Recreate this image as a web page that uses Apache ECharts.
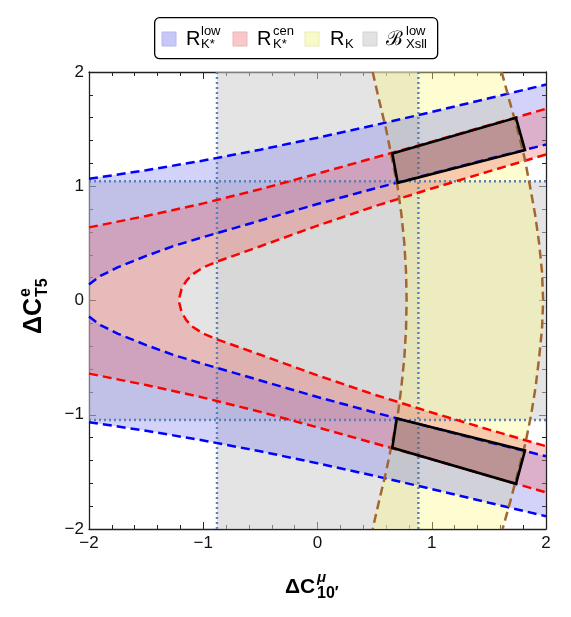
<!DOCTYPE html>
<html>
<head>
<meta charset="utf-8">
<script src="https://cdn.jsdelivr.net/npm/echarts@6/dist/echarts.min.js"></script>
<style>
  html, body { margin: 0; background: #fff; }
  #chart { width: 571px; height: 617px; }
</style>
</head>
<body>
<div id="chart"></div>
<script>
// axis ticks
const xTicks = [-2, -1, 0, 1, 2];
const yTicks = [-2, -1, 0, 1, 2];

// R_K* low: outer and inner boundaries (upper / lower branch)
const blueOuterTop = [[-2, 1.065], [-1.5, 1.14], [-1, 1.225], [-0.5, 1.32], [0, 1.425], [0.5, 1.535], [1, 1.65], [1.5, 1.77], [2, 1.89]];
const blueOuterBottom = [[-2, -1.065], [-1.5, -1.14], [-1, -1.225], [-0.5, -1.32], [0, -1.425], [0.5, -1.535], [1, -1.65], [1.5, -1.77], [2, -1.888]];
const blueInnerTop = [[-2, 0.14], [-1.9, 0.215], [-1.75, 0.29], [-1.5, 0.39], [-1.25, 0.48], [-1, 0.555], [-0.5, 0.7], [0, 0.845], [0.5, 0.98], [1, 1.11], [1.5, 1.24], [2, 1.365]];
const blueInnerBottom = [[-2, -0.14], [-1.9, -0.215], [-1.75, -0.29], [-1.5, -0.39], [-1.25, -0.48], [-1, -0.555], [-0.5, -0.7], [0, -0.845], [0.5, -0.98], [1, -1.11], [1.5, -1.24], [2, -1.363]];

// R_K* cen
const redOuterTop = [[-2, 0.64], [-1.5, 0.74], [-1, 0.85], [-0.5, 0.975], [0, 1.11], [0.5, 1.25], [1, 1.39], [1.5, 1.535], [2, 1.678]];
const redOuterBottom = [[-2, -0.64], [-1.5, -0.74], [-1, -0.85], [-0.5, -0.975], [0, -1.11], [0.5, -1.25], [1, -1.39], [1.5, -1.535], [2, -1.68]];
const redInnerTop = [[-1.215, 0], [-1.19, 0.1], [-1.15, 0.17], [-1.1, 0.225], [-1, 0.29], [-0.88, 0.34], [-0.5, 0.475], [0, 0.655], [0.5, 0.825], [1, 0.98], [1.5, 1.13], [2, 1.278]];
const redInnerBottom = [[-1.215, 0], [-1.19, -0.1], [-1.15, -0.17], [-1.1, -0.225], [-1, -0.29], [-0.88, -0.34], [-0.5, -0.475], [0, -0.655], [0.5, -0.825], [1, -0.98], [1.5, -1.13], [2, -1.275]];

// R_K: left and right boundaries, top to bottom
const brownLeft = [[0.483, 2], [0.54, 1.75], [0.6, 1.5], [0.65, 1.25], [0.7, 1], [0.735, 0.75], [0.76, 0.5], [0.775, 0.25], [0.78, 0], [0.775, -0.25], [0.76, -0.5], [0.735, -0.75], [0.703, -1], [0.652, -1.25], [0.6, -1.5], [0.54, -1.75], [0.483, -2]];
const brownRight = [[1.612, 2], [1.68, 1.75], [1.75, 1.5], [1.812, 1.25], [1.86, 1], [1.905, 0.75], [1.94, 0.5], [1.965, 0.25], [1.975, 0], [1.965, -0.25], [1.94, -0.5], [1.91, -0.75], [1.87, -1], [1.82, -1.25], [1.755, -1.5], [1.69, -1.75], [1.62, -2]];

// B_Xsll low: bands
const grayBandX = [-0.88, 0.883];
const grayBandY = [-1.046, 1.044];

// best-fit boxes
const boxTop = [[0.655, 1.287], [1.737, 1.599], [1.816, 1.316], [0.702, 1.03]];
const boxBottom = [[0.693, -1.033], [1.816, -1.313], [1.737, -1.605], [0.655, -1.289]];

const FONT = 'Liberation Sans, Arial, Helvetica, sans-serif';
const BLUE_FILL = 'rgba(110,110,240,0.3)';
const RED_FILL = 'rgba(240,90,90,0.3)';
const YELLOW_FILL = 'rgba(250,250,140,0.4)';
const GRAY_FILL = 'rgba(205,205,205,0.55)';

const rev = arr => arr.slice().reverse();

function polygonSeries(polys, fill, stroke, z) {
    return {
        type: 'custom',
        coordinateSystem: 'cartesian2d',
        clip: true,
        silent: true,
        z: z || 2,
        data: polys.map(() => [0, 0]),
        renderItem: (params, api) => ({
            type: 'polygon',
            shape: { points: polys[params.dataIndex].map(p => api.coord(p)) },
            style: { fill, stroke: stroke || null, lineWidth: 2.6, lineJoin: 'miter' },
        }),
    };
}

function lineSeries(data, color, dash, width) {
    return {
        type: 'line',
        data,
        symbol: 'none',
        silent: true,
        clip: true,
        z: 3,
        lineStyle: { color, width, type: dash },
    };
}

const grayV = [[grayBandX[0], -2], [grayBandX[1], -2], [grayBandX[1], 2], [grayBandX[0], 2]];
const grayH = [[-2, grayBandY[0]], [2, grayBandY[0]], [2, grayBandY[1]], [-2, grayBandY[1]]];
const yellowPoly = brownLeft.concat(rev(brownRight));
const blueTopPoly = blueOuterTop.concat(rev(blueInnerTop));
const blueBottomPoly = blueOuterBottom.concat(rev(blueInnerBottom));
const redPoly = redOuterTop.concat(rev(redInnerTop), redInnerBottom.slice(1), rev(redOuterBottom));
const redInnerLine = rev(redInnerTop).concat(redInnerBottom.slice(1));

const fmt = v => (v < 0 ? '\u2212' + Math.abs(v) : String(v));

const baseAxis = {
    type: 'value',
    min: -2,
    max: 2,
    interval: 1,
    splitLine: { show: false },
    axisLine: { show: true, onZero: false, lineStyle: { color: '#222', width: 1.3 } },
    axisTick: { show: true, inside: true, length: 7, lineStyle: { color: '#222', width: 1 } },
    minorTick: { show: true, splitNumber: 5, length: 4, lineStyle: { color: '#222', width: 1 } },
};

const dash = [9, 5];
const dot = [2, 3];
const dotColor = '#5a80b4';
const lw = 2.5;

const option = {
    animation: false,
    grid: { left: 89, right: 25, top: 72, bottom: 88 },
    xAxis: [
        { ...baseAxis, position: 'bottom', axisLabel: { color: '#111', fontSize: 17, fontFamily: FONT, margin: 6, formatter: fmt } },
        { ...baseAxis, position: 'top', axisLabel: { show: false } },
    ],
    yAxis: [
        { ...baseAxis, position: 'left', axisLabel: { color: '#111', fontSize: 17, fontFamily: FONT, margin: 5, formatter: fmt } },
        { ...baseAxis, position: 'right', axisLabel: { show: false } },
    ],
    series: [
        polygonSeries([grayV, grayH], GRAY_FILL),
        polygonSeries([yellowPoly], YELLOW_FILL),
        polygonSeries([blueTopPoly, blueBottomPoly], BLUE_FILL),
        polygonSeries([redPoly], RED_FILL),
        lineSeries([[grayBandX[0], -2], [grayBandX[0], 2]], dotColor, dot, 2.4),
        lineSeries([[grayBandX[1], -2], [grayBandX[1], 2]], dotColor, dot, 2.4),
        lineSeries([[-2, grayBandY[0]], [2, grayBandY[0]]], dotColor, dot, 2.4),
        lineSeries([[-2, grayBandY[1]], [2, grayBandY[1]]], dotColor, dot, 2.4),
        lineSeries(blueOuterTop, '#0000ff', dash, lw),
        lineSeries(blueOuterBottom, '#0000ff', dash, lw),
        lineSeries(blueInnerTop, '#0000ff', dash, lw),
        lineSeries(blueInnerBottom, '#0000ff', dash, lw),
        lineSeries(redOuterTop, '#ff0000', dash, lw),
        lineSeries(redOuterBottom, '#ff0000', dash, lw),
        lineSeries(redInnerLine, '#ff0000', dash, lw),
        lineSeries(brownLeft, '#a3662f', dash, lw),
        lineSeries(brownRight, '#a3662f', dash, lw),
        polygonSeries([boxTop, boxBottom], 'rgba(100,75,60,0.25)', '#000', 10),
    ],
    graphic: [
        // legend box
        { type: 'rect', left: 154, top: 17, shape: { width: 283, height: 41, r: 5 }, style: { fill: '#fff', stroke: '#000', lineWidth: 1.3 } },
        { type: 'rect', x: 162, y: 32, shape: { width: 14, height: 14 }, style: { fill: '#c8c8f8', stroke: '#b8b8e8', lineWidth: 1 } },
        { type: 'text', x: 186, y: 39, style: { text: 'R', font: '20px ' + FONT, fill: '#000', verticalAlign: 'middle' } },
        { type: 'text', x: 201, y: 31, style: { text: 'low', font: '13px ' + FONT, fill: '#000', verticalAlign: 'middle' } },
        { type: 'text', x: 201, y: 44, style: { text: 'K*', font: '13px ' + FONT, fill: '#000', verticalAlign: 'middle' } },
        { type: 'rect', x: 233, y: 32, shape: { width: 14, height: 14 }, style: { fill: '#f8c8c8', stroke: '#e8b8b8', lineWidth: 1 } },
        { type: 'text', x: 257, y: 39, style: { text: 'R', font: '20px ' + FONT, fill: '#000', verticalAlign: 'middle' } },
        { type: 'text', x: 273, y: 31, style: { text: 'cen', font: '13px ' + FONT, fill: '#000', verticalAlign: 'middle' } },
        { type: 'text', x: 273, y: 44, style: { text: 'K*', font: '13px ' + FONT, fill: '#000', verticalAlign: 'middle' } },
        { type: 'rect', x: 305, y: 32, shape: { width: 14, height: 14 }, style: { fill: '#fafac8', stroke: '#eaeab8', lineWidth: 1 } },
        { type: 'text', x: 330, y: 39, style: { text: 'R', font: '20px ' + FONT, fill: '#000', verticalAlign: 'middle' } },
        { type: 'text', x: 345, y: 44, style: { text: 'K', font: '13px ' + FONT, fill: '#000', verticalAlign: 'middle' } },
        { type: 'rect', x: 363, y: 32, shape: { width: 14, height: 14 }, style: { fill: '#e2e2e2', stroke: '#d2d2d2', lineWidth: 1 } },
        { type: 'text', x: 386, y: 39, style: { text: '\u212C', font: '20px ' + FONT, fill: '#000', verticalAlign: 'middle' } },
        { type: 'text', x: 406, y: 31, style: { text: 'low', font: '13px ' + FONT, fill: '#000', verticalAlign: 'middle' } },
        { type: 'text', x: 406, y: 44, style: { text: 'Xsll', font: '13px ' + FONT, fill: '#000', verticalAlign: 'middle' } },
        // x axis title
        { type: 'text', x: 285, y: 587, style: { text: '\u0394C', font: 'bold 21px ' + FONT, fill: '#000', verticalAlign: 'middle' } },
        { type: 'text', x: 317, y: 578, style: { text: '\u03BC', font: 'italic bold 15px ' + FONT, fill: '#000', verticalAlign: 'middle' } },
        { type: 'text', x: 317, y: 594, style: { text: '10\u2032', font: 'bold 16px ' + FONT, fill: '#000', verticalAlign: 'middle' } },
        // y axis title
        {
            type: 'group', x: 34, y: 334, rotation: Math.PI / 2,
            children: [
                { type: 'text', x: 0, y: 0, style: { text: '\u0394C', font: 'bold 25px ' + FONT, fill: '#000', verticalAlign: 'middle' } },
                { type: 'text', x: 37, y: -8, style: { text: 'e', font: 'bold 16px ' + FONT, fill: '#000', verticalAlign: 'middle' } },
                { type: 'text', x: 37, y: 9, style: { text: 'T5', font: 'bold 16px ' + FONT, fill: '#000', verticalAlign: 'middle' } },
            ],
        },
    ],
};

const myChart = echarts.init(document.getElementById('chart'));
myChart.setOption(option);
</script>
</body>
</html>
